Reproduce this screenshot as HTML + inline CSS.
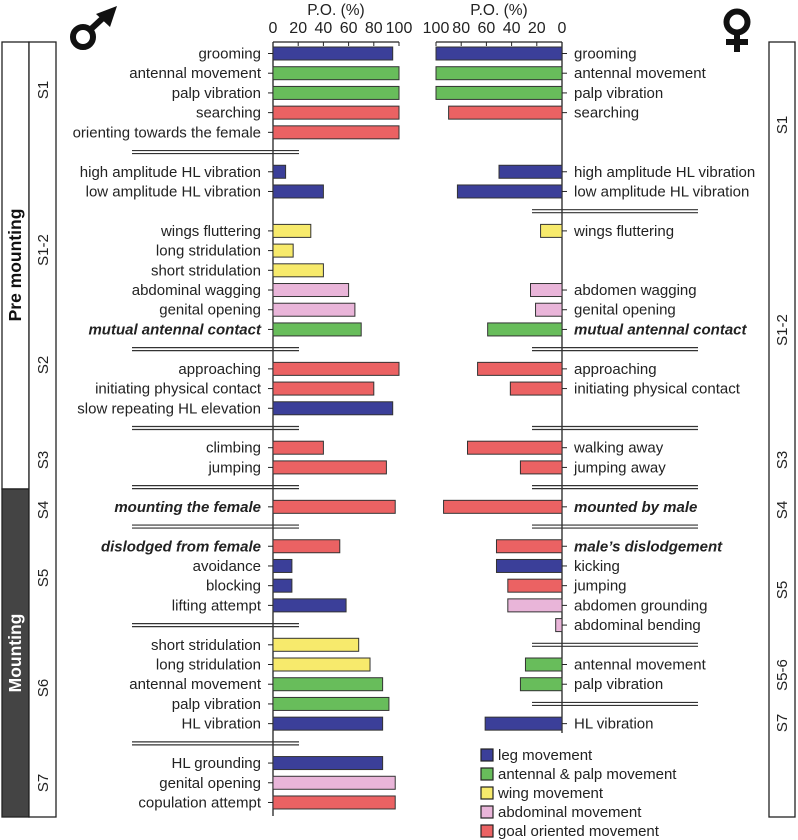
<!DOCTYPE html>
<html><head><meta charset="utf-8">
<style>
html,body{margin:0;padding:0;background:#fff;}
svg{display:block;font-family:"Liberation Sans",Arial,sans-serif;}
</style></head>
<body>
<svg id="chart" width="798" height="840" viewBox="0 0 798 840" xmlns="http://www.w3.org/2000/svg"></svg>
<script>
// ---- data ----
const maleLabels = ["grooming","antennal movement","palp vibration","searching","orienting towards the female","high amplitude HL vibration","low amplitude HL vibration","wings fluttering","long  stridulation","short stridulation","abdominal wagging","genital opening","mutual antennal contact","approaching","initiating physical contact","slow repeating HL elevation","climbing","jumping","mounting the female","dislodged from female","avoidance","blocking","lifting  attempt","short stridulation","long stridulation","antennal movement","palp vibration","HL vibration","HL grounding","genital opening","copulation attempt"];
const maleValues = [95,100,100,100,100,10,40,30,16,40,60,65,70,100,80,95,40,90,97,53,15,15,58,68,77,87,92,87,87,97,97];
const maleCats = ["leg","ant","ant","goal","goal","leg","leg","wing","wing","wing","abd","abd","ant","goal","goal","leg","goal","goal","goal","goal","leg","leg","leg","wing","wing","ant","ant","leg","leg","abd","goal"];
const maleSlots = [0,1,2,3,4,6,7,9,10,11,12,13,14,16,17,18,20,21,23,25,26,27,28,30,31,32,33,34,36,37,38];
const maleBold = ["mutual antennal contact","mounting the female","dislodged from female"];
const maleSeps = [5,15,19,22,24,29,35];

const femLabels = ["grooming","antennal movement","palp vibration"," searching","high amplitude HL vibration","low amplitude HL vibration","wings fluttering","abdomen wagging","genital opening","mutual antennal contact","approaching","initiating physical contact","walking away","jumping away","mounted by male","male’s dislodgement","kicking","jumping","abdomen grounding","abdominal bending","antennal movement","palp vibration","HL vibration"];
const femValues = [100,100,100,90,50,83,17,25,21,59,67,41,75,33,94,52,52,43,43,5,29,33,61];
const femCats = ["leg","ant","ant","goal","leg","leg","wing","abd","abd","ant","goal","goal","goal","goal","goal","goal","leg","goal","abd","abd","ant","ant","leg"];
const femSlots = [0,1,2,3,6,7,9,12,13,14,16,17,20,21,23,25,26,27,28,29,31,32,34];
const femBold = ["mutual antennal contact","mounted by male","male’s dislodgement"];
const femSeps = [8,15,19,22,24,30,33];

const ticks = [0,20,40,60,80,100];
const legendKeys = ["leg","ant","wing","abd","goal"];
const legendLabels = ["leg movement","antennal & palp movement","wing movement","abdominal movement","goal oriented movement"];
const colors = {leg:"#3b3f99",ant:"#68bd5b",wing:"#f7ea6c",abd:"#e9b5d9",goal:"#eb6263"};

// ---- scales ----
const xM = v => 273 + v*1.26;
const xF = v => 562 - v*1.26;
const yS = s => 53.5 + s*19.71;

const svg = document.getElementById('chart');
const NS = "http://www.w3.org/2000/svg";
function mk(tag, attrs, parent){const e=document.createElementNS(NS,tag);for(const k in attrs)e.setAttribute(k,attrs[k]);(parent||svg).appendChild(e);return e;}
function txt(x,y,s,attrs,parent){const e=mk('text',Object.assign({x:x,y:y,'font-size':15,fill:'#222'},attrs||{}),parent);e.textContent=s;return e;}

// ---- left stage boxes ----
let g = mk('g',{});  
mk('rect',{x:2,y:42,width:27,height:447,fill:'#fff',stroke:'#222','stroke-width':1.3},g);
mk('rect',{x:2,y:489,width:27,height:328,fill:'#444',stroke:'#222','stroke-width':1.3},g);
mk('rect',{x:29,y:42,width:27,height:775,fill:'#fff',stroke:'#222','stroke-width':1.3},g);
let t = txt(0,0,"Pre mounting",{'font-size':17.5,'font-weight':'bold','text-anchor':'middle',fill:'#111',transform:'translate(21,265) rotate(-90)'},g);
 
t = txt(0,0,"Mounting",{'font-size':17.5,'font-weight':'bold','text-anchor':'middle',fill:'#fff',transform:'translate(21,653) rotate(-90)'},g);
 
const leftStages=[["S1",90],["S1-2",250],["S2",365],["S3",460],["S4",510],["S5",578],["S6",688],["S7",783]];
leftStages.forEach(s=>{const e=txt(0,0,s[0],{'font-size':15,'text-anchor':'middle',transform:`translate(48,${s[1]}) rotate(-90)`},g);
 });

// ---- right stage box ----
g = mk('g',{});  
mk('rect',{x:769,y:42,width:26,height:775,fill:'#fff',stroke:'#222','stroke-width':1.3},g);
const rightStages=[["S1",125],["S1-2",330],["S3",460],["S4",510],["S5",590],["S5-6",675],["S7",723]];
rightStages.forEach(s=>{const e=txt(0,0,s[0],{'font-size':15,'text-anchor':'middle',transform:`translate(787,${s[1]}) rotate(-90)`},g);
 });

// ---- symbols ----
g = mk('g',{});  
mk('circle',{cx:83,cy:37,r:10,fill:'none',stroke:'#111','stroke-width':6},g);
mk('line',{x1:90,y1:30,x2:104,y2:17,stroke:'#111','stroke-width':6},g);
mk('polygon',{points:'117,6 96,14 110,27',fill:'#111'},g);
g = mk('g',{});  
mk('circle',{cx:737,cy:22,r:10.5,fill:'none',stroke:'#111','stroke-width':6},g);
mk('line',{x1:737,y1:32,x2:737,y2:52,stroke:'#111','stroke-width':6},g);
mk('line',{x1:726,y1:42,x2:748,y2:42,stroke:'#111','stroke-width':6},g);

// ---- axes ----
function axis(xf, name, yEnd){
  const ag = mk('g',{});  
  mk('line',{x1:xf(0),y1:42,x2:xf(100),y2:42,stroke:'#222','stroke-width':1.2},ag);
  mk('line',{x1:xf(0),y1:42,x2:xf(0),y2:yEnd,stroke:'#222','stroke-width':1.3},ag);
  ticks.forEach(v=>{mk('line',{x1:xf(v),y1:42,x2:xf(v),y2:46,stroke:'#222','stroke-width':1},ag);
    const e=txt(xf(v),33,String(v),{'font-size':16,'text-anchor':'middle'},ag);
     });
  const e=txt((xf(0)+xf(100))/2,15,"P.O. (%)",{'font-size':15.5,'text-anchor':'middle'},ag);
   
}
axis(xM,'male-axis',816);
axis(xF,'female-axis',733);

// ---- bars ----
function bars(labels, values, cats, slots, bold, xf, side){
  const bg = mk('g',{});  
  labels.forEach((lab,i)=>{
    const y = yS(slots[i]);
    const x0 = xf(0), x1 = xf(values[i]);
    const r = mk('rect',{x:Math.min(x0,x1),y:y-6.5,width:Math.abs(x1-x0),height:13,fill:colors[cats[i]],stroke:'#333','stroke-width':1},bg);
    
    
    const dir = side==='male' ? -1 : 1;
    mk('line',{x1:x0,y1:y,x2:x0+dir*5,y2:y,stroke:'#222','stroke-width':1},bg);
    const isB = bold.indexOf(lab)>=0;
    const e = txt(side==='male'? x0-12 : x0+12, y+5, lab, {'text-anchor': side==='male'?'end':'start','font-weight':isB?'bold':'normal','font-style':isB?'italic':'normal'}, bg);
    
    
  });
}
bars(maleLabels,maleValues,maleCats,maleSlots,maleBold,xM,'male');
bars(femLabels,femValues,femCats,femSlots,femBold,xF,'female');

// ---- separators ----
function seps(list, x1, x2, side){
  list.forEach(s=>{
    const y = yS(s);
    const sg = mk('g',{});
    
    
    mk('line',{x1:x1,y1:y-1.5,x2:x2,y2:y-1.5,stroke:'#333','stroke-width':1.2},sg);
    mk('line',{x1:x1,y1:y+1.5,x2:x2,y2:y+1.5,stroke:'#333','stroke-width':1.2},sg);
  });
}
seps(maleSeps,132,299,'male');
seps(femSeps,532,698,'female');

// ---- legend ----
g = mk('g',{});  
legendKeys.forEach((k,i)=>{
  const y = 755 + i*19;
  const r = mk('rect',{x:481,y:y-6,width:12,height:12,fill:colors[k],stroke:'#222','stroke-width':1.2},g);
  
  
  const e = txt(498,y+5,legendLabels[i],{'font-size':15},g);
  
  
});
</script>
</body></html>
